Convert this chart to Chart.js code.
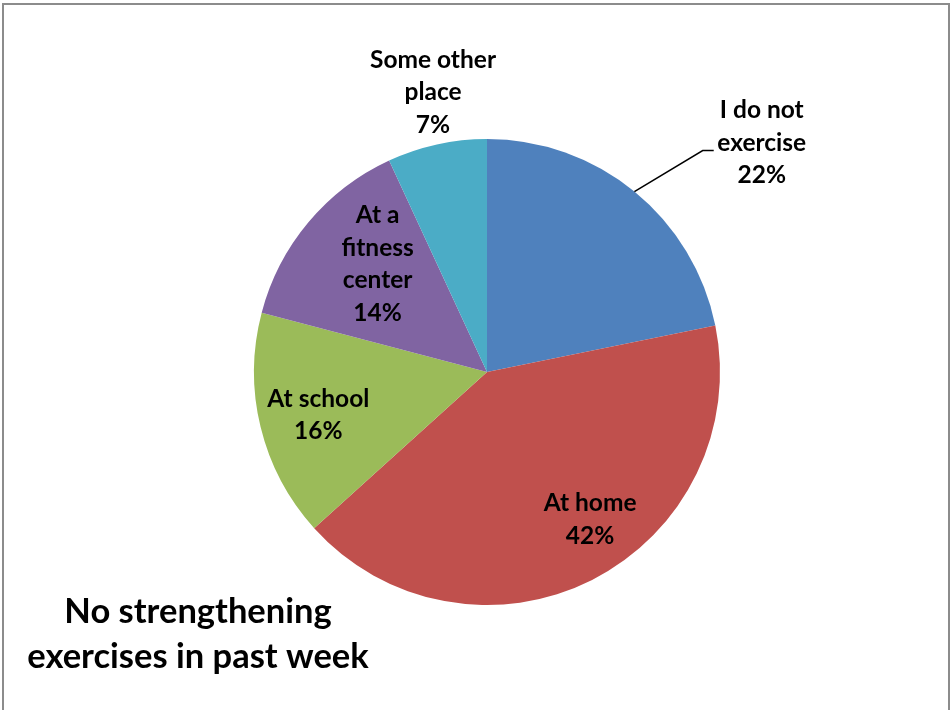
<!DOCTYPE html>
<html>
<head>
<meta charset="utf-8">
<script src="https://cdn.jsdelivr.net/npm/chart.js@4.4.1/dist/chart.umd.min.js"></script>
<style>
  html, body { margin: 0; padding: 0; background: #fff; overflow: hidden; }
  #frame {
    position: absolute; left: 2px; top: 3px; width: 944px; height: 720px;
    border: 2px solid #8c8c8c; border-bottom: none;
  }
  #wrap { position: absolute; left: 0; top: 0; width: 950px; height: 710px; }
</style>
</head>
<body>
<div id="frame"></div>
<div id="wrap"><canvas id="chart" width="950" height="710"></canvas></div>
<script>
// Slices, clockwise from 12 o'clock
const categories = [
  ['I do not', 'exercise'],
  ['At home'],
  ['At school'],
  ['At a', 'fitness', 'center'],
  ['Some other', 'place']
];
const values = [21.8, 41.5, 15.8, 14.0, 6.9];
const colors = ['#4F81BD', '#C0504D', '#9BBB59', '#8064A2', '#4BACC6'];
const titleLines = ['No strengthening', 'exercises in past week'];

// label placement: radius factor and angle shift (deg) from slice middle
const labelRadius = [1.536, 0.773, 0.747, 0.66, 1.223];
const labelShift = [10.9, -8.1, -0.6, 4.7, 1.5];
const leader = [true, false, false, false, false];

const FONT = 'Lato, "Open Sans", sans-serif';

const pieLabels = {
    id: 'pieLabels',
    afterDatasetsDraw: function (chart) {
        const ctx = chart.ctx;
        const meta = chart.getDatasetMeta(0);
        const total = values.reduce((a, b) => a + b, 0);
        ctx.save();
        ctx.fillStyle = '#000';
        ctx.font = 'bold 24.5px ' + FONT;
        ctx.textAlign = 'center';
        ctx.textBaseline = 'middle';
        meta.data.forEach((arc, i) => {
            const p = arc.getProps(['x', 'y', 'startAngle', 'endAngle', 'outerRadius'], true);
            const mid = (p.startAngle + p.endAngle) / 2;
            const a = mid + labelShift[i] * Math.PI / 180;
            const r = p.outerRadius * labelRadius[i];
            const cx = p.x + Math.cos(a) * r;
            const cy = p.y + Math.sin(a) * r;
            const lines = categories[i].concat([Math.round(values[i] / total * 100) + '%']);
            const lh = 32.5;
            const top = cy - (lines.length - 1) * lh / 2;
            lines.forEach((t, k) => ctx.fillText(t, cx, top + k * lh));

            if (leader[i]) {
                const ex = p.x + Math.cos(mid) * p.outerRadius;
                const ey = p.y + Math.sin(mid) * p.outerRadius;
                ctx.beginPath();
                ctx.strokeStyle = '#000';
                ctx.lineWidth = 1.5;
                ctx.moveTo(ex, ey);
                ctx.lineTo(cx - 59, cy + 8);
                ctx.lineTo(cx - 48, cy + 8);
                ctx.stroke();
            }
        });

        ctx.font = 'bold 34.5px ' + FONT;
        ctx.fillText(titleLines[0], 198, 612);
        ctx.fillText(titleLines[1], 198, 657);
        ctx.restore();
    }
};

new Chart(document.getElementById('chart'), {
    type: 'pie',
    data: {
        labels: categories.map(c => c.join(' ')),
        datasets: [{
            data: values,
            backgroundColor: colors,
            borderWidth: 0
        }]
    },
    options: {
        responsive: false,
        animation: false,
        layout: { padding: { left: 254, right: 230, top: 139, bottom: 105 } },
        plugins: {
            legend: { display: false },
            tooltip: { enabled: false }
        }
    },
    plugins: [pieLabels]
});
</script>
</body>
</html>
